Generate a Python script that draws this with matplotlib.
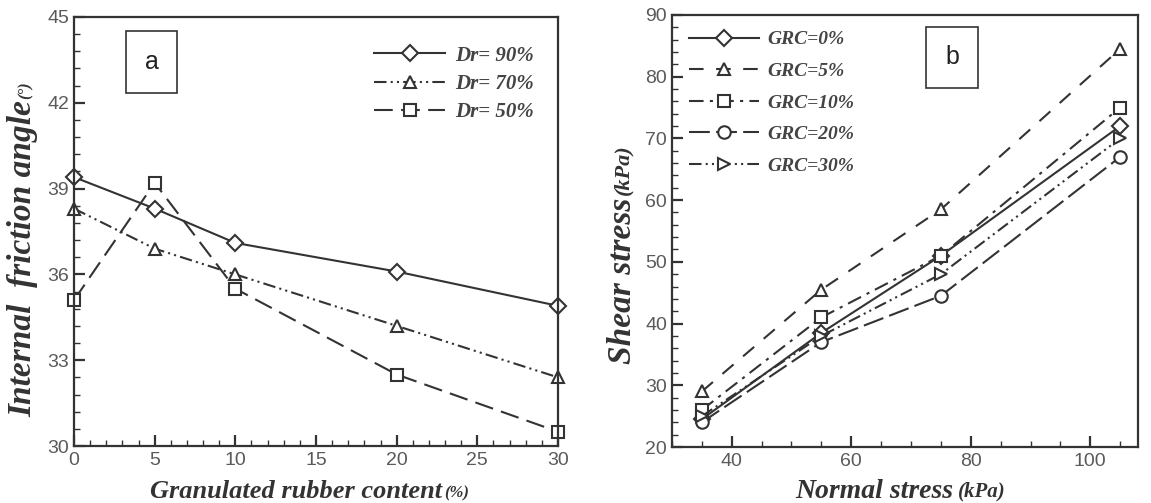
import matplotlib.pyplot as plt
from matplotlib.ticker import MultipleLocator

# (a) friction angle vs granulated rubber content
grc = [0, 5, 10, 20, 30]
dr90 = [39.4, 38.3, 37.1, 36.1, 34.9]
dr70 = [38.3, 36.9, 36.0, 34.2, 32.4]
dr50 = [35.1, 39.2, 35.5, 32.5, 30.5]
dr_labels = ['Dr= 90%', 'Dr= 70%', 'Dr= 50%']

# (b) shear stress vs normal stress
normal = [35, 55, 75, 105]
grc0 = [24.5, 38.5, 51.0, 72.0]
grc5 = [29.0, 45.5, 58.5, 84.5]
grc10 = [26.0, 41.0, 51.0, 75.0]
grc20 = [24.0, 37.0, 44.5, 67.0]
grc30 = [25.0, 38.0, 48.0, 70.0]
grc_labels = ['GRC=0%', 'GRC=5%', 'GRC=10%', 'GRC=20%', 'GRC=30%']

LC = '#333333'
TICK_C = '#5a5a5a'
serif = 'Liberation Serif'
sans = 'Liberation Sans'

fig = plt.figure(figsize=(11.51, 5.03), dpi=100)
ax1 = fig.add_axes([0.0643, 0.1133, 0.4205, 0.853])
ax2 = fig.add_axes([0.5838, 0.1113, 0.405, 0.859])

mk = dict(markersize=9, markerfacecolor='white', markeredgecolor=LC,
          markeredgewidth=1.5, color=LC, lw=1.5, clip_on=False)

ax1.plot(grc, dr90, linestyle='-', marker='D', label=dr_labels[0], **{**mk, 'markersize': 8})
ax1.plot(grc, dr70, linestyle=(0, (6, 2, 1, 2, 1, 2)), marker='^', label=dr_labels[1], **mk)
ax1.plot(grc, dr50, linestyle=(0, (9, 4)), marker='s', label=dr_labels[2], **{**mk, 'markersize': 8})

ax2.plot(normal, grc0, linestyle='-', marker='D', label=grc_labels[0], **{**mk, 'markersize': 8})
ax2.plot(normal, grc5, linestyle=(0, (7, 6)), marker='^', label=grc_labels[1], **mk)
ax2.plot(normal, grc10, linestyle=(0, (7, 3, 1.5, 3)), marker='s', label=grc_labels[2], **{**mk, 'markersize': 8})
ax2.plot(normal, grc20, linestyle=(0, (10, 3)), marker='o', label=grc_labels[3], **mk)
ax2.plot(normal, grc30, linestyle=(0, (6, 2, 1, 2, 1, 2)), marker='>', label=grc_labels[4], **mk)

ax1.set_xlim(0, 30)
ax1.set_ylim(30, 45)
ax1.xaxis.set_major_locator(MultipleLocator(5))
ax1.xaxis.set_minor_locator(MultipleLocator(1))
ax1.yaxis.set_major_locator(MultipleLocator(3))
ax1.yaxis.set_minor_locator(MultipleLocator(0.6))

ax2.set_xlim(30, 108)
ax2.set_ylim(20, 90)
ax2.xaxis.set_major_locator(MultipleLocator(20))
ax2.xaxis.set_minor_locator(MultipleLocator(5))
ax2.yaxis.set_major_locator(MultipleLocator(10))
ax2.yaxis.set_minor_locator(MultipleLocator(2))

for ax in (ax1, ax2):
    for s in ax.spines.values():
        s.set_linewidth(1.6)
        s.set_color(LC)
    ax.tick_params(which='both', direction='in', colors=LC, labelcolor=TICK_C,
                   labelsize=14)
    ax.tick_params(which='major', length=8, width=1.6)
    ax.tick_params(which='minor', length=4, width=1.0)
    for lab in ax.get_xticklabels() + ax.get_yticklabels():
        lab.set_fontfamily(sans)
    ax.tick_params(axis='x', pad=4)

leg_font = dict(family=serif, style='italic', weight='bold', size=15)
ax1.legend(loc='upper right', bbox_to_anchor=(0.988, 0.977), frameon=False,
           prop=leg_font, handlelength=3.4, handletextpad=0.45,
           labelspacing=0.4, labelcolor='#444444')
ax2.legend(loc='upper left', bbox_to_anchor=(0.0, 1.004), frameon=False,
           prop={**leg_font, 'size': 14}, handlelength=3.6, handletextpad=0.4,
           labelspacing=0.72, labelcolor='#444444')

# panel tags
ax1.text(0.160, 0.895, 'a', transform=ax1.transAxes, fontsize=18,
         family=sans, color='#222222', ha='center', va='center',
         bbox=dict(boxstyle='square,pad=0.75', fc='white', ec=LC, lw=1.2))
ax2.text(0.601, 0.902, 'b', transform=ax2.transAxes, fontsize=18,
         family=sans, color='#222222', ha='center', va='center',
         bbox=dict(boxstyle='square,pad=0.75', fc='white', ec=LC, lw=1.2))

# axis titles with smaller unit parts
lab = dict(family=serif, style='italic', weight='bold', color='#333333')
fig.text(0.384, 0.022, 'Granulated rubber content', ha='right', va='center', size=19, **lab)
fig.text(0.386, 0.019, '(%)', ha='left', va='center', size=12, **lab)
fig.text(0.020, 0.801, 'Internal  friction angle', rotation=90, ha='center', va='top', size=24, **lab)
fig.text(0.022, 0.803, '(°)', rotation=90, ha='center', va='bottom', size=12, **lab)

fig.text(0.828, 0.022, 'Normal stress', ha='right', va='center', size=20, **lab)
fig.text(0.832, 0.022, '(kPa)', ha='left', va='center', size=15, **lab)
fig.text(0.541, 0.608, 'Shear stress', rotation=90, ha='center', va='top', size=24, **lab)
fig.text(0.542, 0.612, '(kPa)', rotation=90, ha='center', va='bottom', size=16, **lab)

fig.savefig('out.png', dpi=100, facecolor='white')
